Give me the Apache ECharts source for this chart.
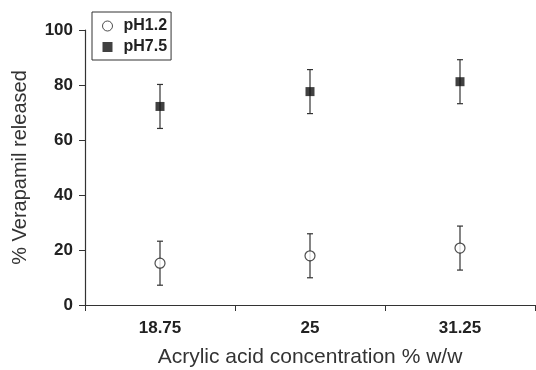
<!DOCTYPE html>
<html>
<head>
<meta charset="utf-8">
<script src="https://cdn.jsdelivr.net/npm/echarts@6/dist/echarts.min.js"></script>
<style>
  html, body { margin: 0; padding: 0; background: #fff; }
  #chart { width: 536px; height: 370px; }
</style>
</head>
<body>
<div id="chart"></div>
<script>
const categories = ['18.75', '25', '31.25']
const ph12 = [15.2, 17.9, 20.7]
const ph12Err = [8, 8, 8]
const ph75 = [72.2, 77.6, 81.2]
const ph75Err = [8, 8, 8]
const yTicks = [0, 20, 40, 60, 80, 100]

const chart = echarts.init(document.getElementById('chart'))

// error bars: vertical line with small caps
function errorSeries(values, errs) {
  return {
    type: 'custom',
    silent: true,
    z: 1,
    data: values.map((v, i) => [i, v - errs[i], v + errs[i]]),
    renderItem: (params, api) => {
      const lo = api.coord([api.value(0), api.value(1)])
      const hi = api.coord([api.value(0), api.value(2)])
      const cap = 3
      const style = { stroke: '#333', lineWidth: 1.2 }
      return {
        type: 'group',
        children: [
          { type: 'line', shape: { x1: lo[0], y1: lo[1], x2: hi[0], y2: hi[1] }, style },
          { type: 'line', shape: { x1: lo[0] - cap, y1: lo[1], x2: lo[0] + cap, y2: lo[1] }, style },
          { type: 'line', shape: { x1: hi[0] - cap, y1: hi[1], x2: hi[0] + cap, y2: hi[1] }, style },
        ],
      }
    },
  }
}

chart.setOption({
  animation: false,
  textStyle: { fontFamily: 'Liberation Sans, Arial, sans-serif' },
  grid: { left: 85, right: 1, top: 30, bottom: 65, outerBoundsMode: 'none' },
  legend: {
    orient: 'vertical',
    left: 92,
    top: 12,
    padding: [6, 4, 5, 10],
    itemGap: 5,
    itemWidth: 10,
    itemHeight: 10,
    borderColor: '#333',
    borderWidth: 1,
    textStyle: { fontSize: 16, fontWeight: 'bold', color: '#222', padding: [0, 0, 0, 6] },
    data: [
      { name: 'pH1.2', icon: 'circle', itemStyle: { color: '#fff', borderColor: '#222', borderWidth: 1 } },
      { name: 'pH7.5', icon: 'rect', itemStyle: { color: '#111' } },
    ],
  },
  xAxis: {
    type: 'category',
    data: categories,
    boundaryGap: true,
    name: 'Acrylic acid concentration % w/w',
    nameLocation: 'middle',
    nameGap: 42,
    nameTextStyle: { fontSize: 21, color: '#333' },
    axisLine: { lineStyle: { color: '#333', width: 1.2 } },
    axisTick: { show: true, length: 6, lineStyle: { color: '#333' } },
    axisLabel: { fontSize: 17, fontWeight: 'bold', color: '#222', margin: 15 },
  },
  yAxis: {
    type: 'value',
    min: yTicks[0],
    max: yTicks[yTicks.length - 1],
    interval: 20,
    name: '% Verapamil released',
    nameLocation: 'middle',
    nameGap: 55,
    nameTextStyle: { fontSize: 20, color: '#333' },
    splitLine: { show: false },
    axisLine: { show: true, lineStyle: { color: '#333', width: 1.2 } },
    axisTick: { show: true, length: 6, lineStyle: { color: '#333' } },
    axisLabel: { fontSize: 17, fontWeight: 'bold', color: '#222', margin: 12 },
  },
  series: [
    errorSeries(ph12, ph12Err),
    errorSeries(ph75, ph75Err),
    {
      name: 'pH1.2',
      type: 'scatter',
      z: 3,
      symbol: 'circle',
      symbolSize: 10,
      itemStyle: { color: '#fff', borderColor: '#222', borderWidth: 1.2 },
      data: ph12,
    },
    {
      name: 'pH7.5',
      type: 'scatter',
      z: 3,
      symbol: 'rect',
      symbolSize: 9,
      itemStyle: { color: '#111' },
      data: ph75,
    },
  ],
})
</script>
</body>
</html>
